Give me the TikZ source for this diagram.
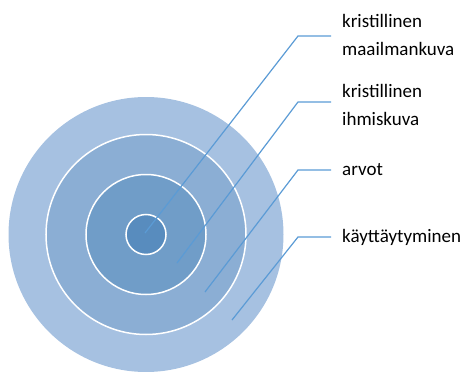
\documentclass[tikz,border=0pt]{standalone}
\usepackage{fontspec}
\setmainfont{Carlito}
\definecolor{ringA}{RGB}{166,193,225}
\definecolor{ringB}{RGB}{139,174,212}
\definecolor{ringC}{RGB}{112,157,200}
\definecolor{ringD}{RGB}{88,140,190}
\definecolor{leader}{RGB}{91,155,213}
\begin{document}
\begin{tikzpicture}[x=1pt,y=-1pt,
  ring/.style={circle,inner sep=0pt,draw=white,line width=1.5pt},
  leadline/.style={draw=leader,line width=1.2pt},
  lbl/.style={anchor=base west,inner sep=0pt,font=\fontsize{19}{23}\selectfont,text=black}]
\useasboundingbox (0,0) rectangle (467,372);
\node[ring,draw=none,fill=ringA,minimum size=275pt] (c1) at (146,234.5) {};
\node[ring,fill=ringB,minimum size=200pt] (c2) at (146,234.5) {};
\node[ring,fill=ringC,minimum size=120pt] (c3) at (146,234.5) {};
\node[ring,fill=ringD,minimum size=40pt] (c4) at (146,234.5) {};
% leader coordinates
\coordinate (s1) at (145,233);
\coordinate (k1) at (298,36);
\coordinate (e1) at (331,36);
\coordinate (s2) at (177,263);
\coordinate (k2) at (298,102);
\coordinate (e2) at (331,102);
\coordinate (s3) at (205,292);
\coordinate (k3) at (298,170);
\coordinate (e3) at (331,170);
\coordinate (s4) at (232,320);
\coordinate (k4) at (298,237);
\coordinate (e4) at (331,237);
\path[leadline] (s1) -- (k1) -- (e1);
\path[leadline] (s2) -- (k2) -- (e2);
\path[leadline] (s3) -- (k3) -- (e3);
\path[leadline] (s4) -- (k4) -- (e4);
\node[lbl] (t1a) at (342,27.5) {kristillinen};
\node[lbl] (t1b) at (342,56) {maailmankuva};
\node[lbl] (t2a) at (342,97.5) {kristillinen};
\node[lbl] (t2b) at (342,125) {ihmiskuva};
\node[lbl] (t3) at (342,175) {arvot};
\node[lbl] (t4) at (342,242) {käyttäytyminen};
\end{tikzpicture}
\end{document}
